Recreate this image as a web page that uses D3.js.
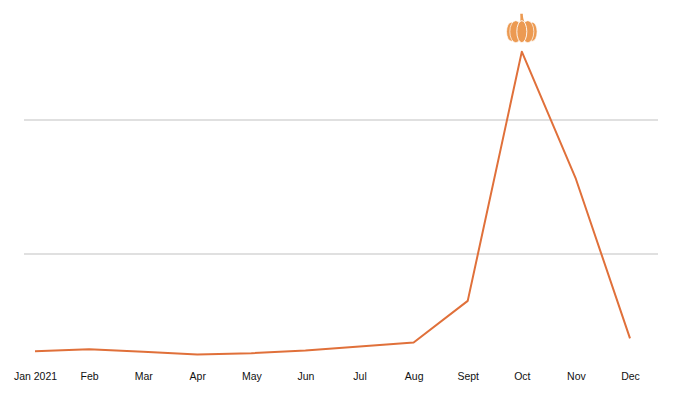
<!DOCTYPE html>
<html>
<head>
<meta charset="utf-8">
<script src="https://cdnjs.cloudflare.com/ajax/libs/d3/7.8.5/d3.min.js"></script>
<style>
html,body{margin:0;padding:0;background:#fff;}
svg{display:block;}
text{font-family:"Liberation Sans",Arial,sans-serif;}
</style>
</head>
<body>
<svg id="chart" width="679" height="393"></svg>
<script>
const months = ["Jan 2021","Feb","Mar","Apr","May","Jun","Jul","Aug","Sept","Oct","Nov","Dec"];
const interest = [27.5,29,27,25,26,28,31,34,65,251,156,37];
const gridTicks = [100,200];
const peakMonth = "Oct";

const svg = d3.select("#chart");
const x = d3.scalePoint().domain(months).range([35,630]);
const y = d3.scaleLinear().domain([0,300]).range([388,-14]);

svg.append("g").selectAll("line").data(gridTicks).join("line")
  .attr("x1",24).attr("x2",658)
  .attr("y1",d=>y(d)).attr("y2",d=>y(d))
  .attr("stroke","#d6d6d6").attr("stroke-width",1.3);

const axis = d3.axisBottom(x).tickSize(0).tickPadding(0);
const ax = svg.append("g").attr("transform","translate(0,373)").call(axis);
ax.select(".domain").remove();
ax.selectAll("text").attr("font-size",10.5).attr("fill","#111")
  .attr("font-family","'Liberation Sans',Arial,sans-serif");

const line = d3.line().x((d,i)=>x(months[i])).y(d=>y(d));
svg.append("path").datum(interest).attr("d",line)
  .attr("fill","none").attr("stroke","#e0703a").attr("stroke-width",2)
  .attr("stroke-linejoin","round");

// pumpkin marker above the peak
const peakIdx = months.indexOf(peakMonth);
const pk = svg.append("g")
  .attr("transform",`translate(${x(peakMonth)},${y(interest[peakIdx])-20})`);
const orange = "#ec9a52";
pk.append("path").attr("d","M-1.8,-9 C-1.2,-12 -1.4,-15 -1.6,-18 L1,-18 C1,-15 1.5,-12 3,-9 Z").attr("fill",orange);
[[-10.5,4.8,9.5],[10.5,4.8,9.5],[-6,6,11],[6,6,11]].forEach(([cx,rx,ry])=>{
  pk.append("ellipse").attr("cx",cx).attr("cy",0).attr("rx",rx).attr("ry",ry)
    .attr("fill",orange).attr("stroke","#fff").attr("stroke-width",0.7);
});
pk.append("ellipse").attr("cx",0).attr("cy",0).attr("rx",5).attr("ry",11)
  .attr("fill",orange).attr("stroke","#fff").attr("stroke-width",0.9);
</script>
</body>
</html>
